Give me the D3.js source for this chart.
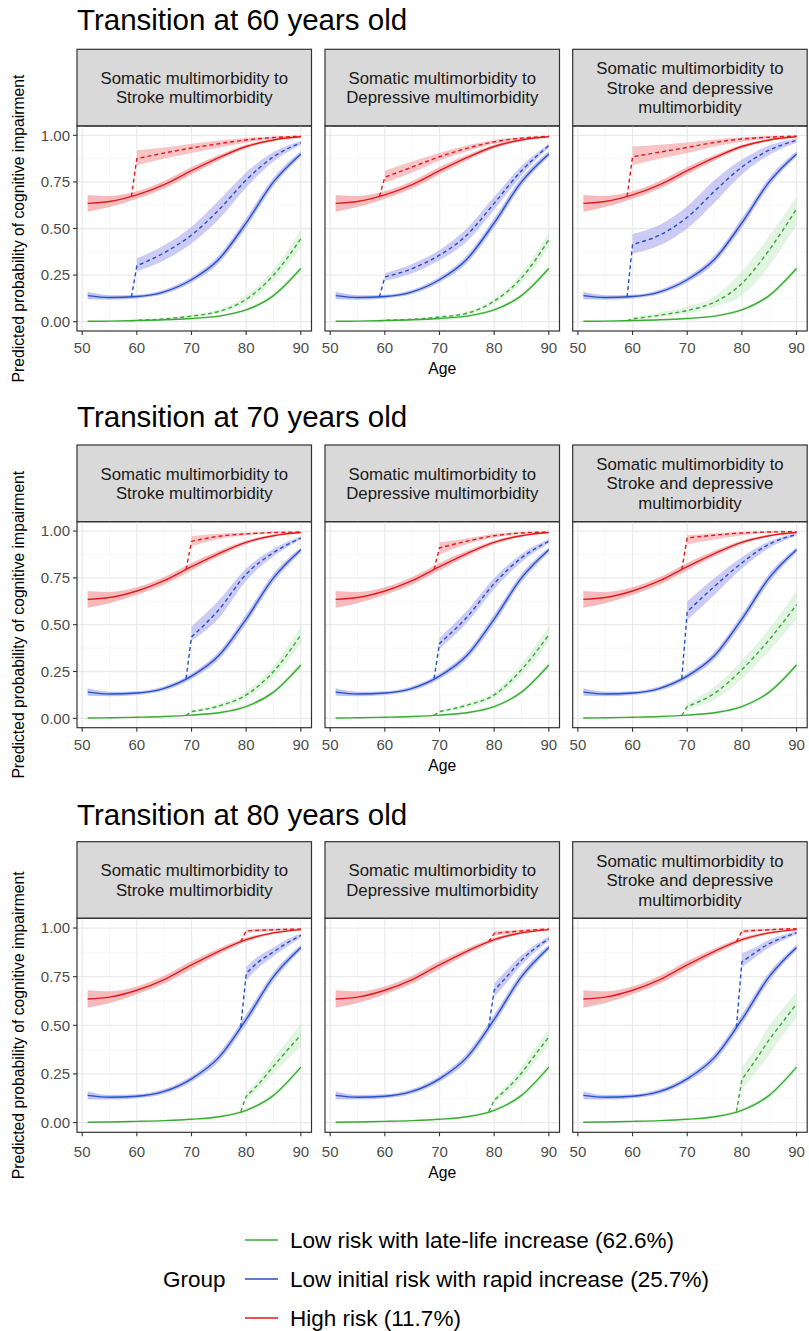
<!DOCTYPE html>
<head>
    <meta charset='utf-8'>
    <style>
        body {
            margin: 0;
            background: #fff;
            font-family: 'Liberation Sans', Arial, sans-serif;
        }
        .grid-major { stroke: #EBEBEB; stroke-width: 1.3px; }
        .grid-minor { stroke: #F3F3F3; stroke-width: 0.7px; }
        .frame { fill: none; stroke: #333; stroke-width: 1.2px; }
        .strip { fill: #D9D9D9; stroke: #333; stroke-width: 1.2px; }
        .tick line { stroke: #333; stroke-width: 1.1px; }
        .tick text { fill: #4D4D4D; font-size: 15px; }
    </style>
</head>

<body>
<div id='vis'></div>
<script src='https://cdn.jsdelivr.net/npm/d3@7'></script>
<script>
  const width = 809, height = 1331

  // ---- data ----
  const transitionAges = [60, 70, 80]
  const facetLabels = [
    ['Somatic multimorbidity to', 'Stroke multimorbidity'],
    ['Somatic multimorbidity to', 'Depressive multimorbidity'],
    ['Somatic multimorbidity to', 'Stroke and depressive', 'multimorbidity']
  ]
  const groupNames = ['Low risk with late-life increase (62.6%)', 'Low initial risk with rapid increase (25.7%)', 'High risk (11.7%)']
  const xTicks = [50, 60, 70, 80, 90]
  const yTicks = [0, 0.25, 0.5, 0.75, 1]
  const yTickLabels = ['0.00', '0.25', '0.50', '0.75', '1.00']

  // baseline trajectory (solid lines), same in every panel
  const baseAges  = [51, 55, 60, 65, 70, 75, 80, 85, 90]
  const baseGreen   = [.002, .003, .006, .010, .017, .030, .063, .140, .285]
  const baseGreenLo = [.000, .001, .003, .007, .013, .024, .054, .128, .269]
  const baseGreenHi = [.004, .005, .009, .013, .021, .036, .072, .152, .301]
  const baseBlue    = [.140, .130, .135, .160, .225, .335, .530, .750, .900]
  const baseBlueLo  = [.120, .118, .125, .148, .210, .315, .505, .728, .886]
  const baseBlueHi  = [.160, .142, .145, .172, .240, .355, .555, .772, .914]
  const baseRed     = [.635, .645, .680, .735, .810, .880, .940, .975, .992]
  const baseRedLo   = [.590, .615, .660, .715, .790, .865, .930, .969, .989]
  const baseRedHi   = [.680, .675, .700, .755, .830, .895, .950, .981, .995]

  // value of the solid line one year before the transition (start of the jump)
  const jumpStart60 = [.005, .132, .672]
  const jumpStart70 = [.015, .212, .795]
  const jumpStart80 = [.056, .490, .930]

  // after transition (dashed lines); one row per facet: stroke, depressive, both
  const ages60 = [60, 65, 70, 75, 80, 85, 90]
  const t60Green   = [[.008, .015, .030, .055, .120, .250, .445], [.008, .013, .025, .045, .110, .235, .440], [.015, .035, .060, .105, .205, .385, .605]]
  const t60GreenLo = [[.006, .011, .023, .045, .100, .220, .400], [.006, .010, .020, .037, .095, .210, .400], [.010, .025, .042, .080, .140, .300, .520]]
  const t60GreenHi = [[.011, .019, .037, .066, .140, .280, .490], [.010, .016, .030, .053, .125, .260, .480], [.022, .050, .080, .135, .270, .460, .670]]
  const t60Blue    = [[.300, .370, .465, .600, .760, .885, .960], [.240, .285, .357, .465, .635, .810, .945], [.415, .465, .560, .700, .830, .920, .973]]
  const t60BlueLo  = [[.270, .330, .420, .550, .720, .860, .950], [.220, .260, .330, .430, .600, .785, .935], [.365, .410, .500, .640, .790, .895, .962]]
  const t60BlueHi  = [[.340, .410, .510, .650, .800, .910, .970], [.260, .310, .385, .500, .670, .835, .955], [.470, .520, .620, .760, .870, .945, .984]]
  const t60Red     = [[.875, .905, .932, .955, .975, .988, .995], [.775, .830, .885, .930, .965, .985, .995], [.885, .910, .935, .962, .980, .990, .996]]
  const t60RedLo   = [[.840, .875, .905, .935, .962, .982, .992], [.745, .800, .865, .915, .955, .980, .993], [.840, .875, .905, .940, .965, .983, .993]]
  const t60RedHi   = [[.920, .935, .955, .972, .986, .994, .998], [.810, .860, .905, .945, .975, .990, .997], [.940, .950, .962, .978, .990, .996, .999]]

  const ages70 = [70, 75, 80, 85, 90]
  const t70Green   = [[.036, .066, .125, .250, .445], [.036, .070, .125, .260, .446], [.063, .134, .260, .420, .607]]
  const t70GreenLo = [[.030, .055, .105, .220, .400], [.030, .058, .110, .230, .410], [.045, .100, .210, .360, .530]]
  const t70GreenHi = [[.043, .078, .145, .280, .490], [.042, .082, .140, .290, .490], [.080, .170, .310, .480, .680]]
  const t70Blue    = [[.435, .580, .770, .885, .963], [.400, .540, .720, .857, .946], [.570, .705, .830, .930, .982]]
  const t70BlueLo  = [[.415, .535, .735, .865, .955], [.370, .510, .690, .835, .935], [.525, .660, .800, .910, .975]]
  const t70BlueHi  = [[.490, .630, .800, .905, .972], [.430, .575, .750, .878, .957], [.625, .750, .860, .945, .988]]
  const t70Red     = [[.945, .972, .985, .992, .995], [.910, .946, .975, .990, .995], [.963, .978, .990, .995, .997]]
  const t70RedLo   = [[.920, .958, .978, .988, .993], [.875, .930, .965, .985, .993], [.930, .955, .978, .990, .994]]
  const t70RedHi   = [[.972, .985, .992, .996, .998], [.940, .960, .985, .994, .998], [.978, .988, .995, .998, .999]]

  const ages80 = [80, 82, 85, 87, 90]
  const t80Green   = [[.135, .190, .290, .355, .450], [.115, .165, .255, .330, .440], [.221, .300, .426, .500, .610]]
  const t80GreenLo = [[.115, .165, .250, .310, .390], [.100, .145, .225, .295, .400], [.170, .240, .350, .430, .540]]
  const t80GreenHi = [[.155, .215, .330, .400, .510], [.130, .185, .285, .365, .480], [.290, .360, .500, .570, .670]]
  const t80Blue    = [[.765, .820, .877, .915, .962], [.680, .740, .835, .885, .945], [.826, .865, .920, .945, .976]]
  const t80BlueLo  = [[.730, .790, .855, .895, .950], [.645, .710, .810, .865, .932], [.800, .840, .900, .930, .967]]
  const t80BlueHi  = [[.800, .850, .900, .935, .972], [.715, .775, .860, .905, .957], [.870, .895, .940, .960, .985]]
  const t80Red     = [[.985, .988, .991, .993, .995], [.972, .978, .985, .990, .995], [.983, .987, .991, .994, .997]]
  const t80RedLo   = [[.975, .980, .985, .988, .991], [.960, .968, .978, .985, .992], [.972, .978, .985, .990, .994]]
  const t80RedHi   = [[.993, .995, .996, .997, .998], [.982, .987, .991, .995, .998], [.992, .994, .996, .998, .999]]

  // ---- assemble ----
  const colors = ['#3AAA35', '#2352C6', '#E31A1C']
  const ribbonFill = ['#B4E6B4', '#A8A8F0', '#F4A3A6']
  const ribbonOpacity = [0.45, 0.7, 0.75]

  const base = [
    {v: baseGreen, lo: baseGreenLo, hi: baseGreenHi},
    {v: baseBlue, lo: baseBlueLo, hi: baseBlueHi},
    {v: baseRed, lo: baseRedLo, hi: baseRedHi}
  ]
  const after = [
    {ages: ages60, from: jumpStart60, sets: [[t60Green, t60GreenLo, t60GreenHi], [t60Blue, t60BlueLo, t60BlueHi], [t60Red, t60RedLo, t60RedHi]]},
    {ages: ages70, from: jumpStart70, sets: [[t70Green, t70GreenLo, t70GreenHi], [t70Blue, t70BlueLo, t70BlueHi], [t70Red, t70RedLo, t70RedHi]]},
    {ages: ages80, from: jumpStart80, sets: [[t80Green, t80GreenLo, t80GreenHi], [t80Blue, t80BlueLo, t80BlueHi], [t80Red, t80RedLo, t80RedHi]]}
  ]

  // row geometry (px)
  const rows = [
    {title: 30,    strip: 49.3,  top: 126,   bottom: 331,    tick: 348,    age: 368},
    {title: 426.7, strip: 445,   top: 521.7, bottom: 727.7,  tick: 745,    age: 765},
    {title: 825,   strip: 841.7, top: 918.3, bottom: 1132.3, tick: 1151.7, age: 1172.7}
  ]
  const panelLefts = [77, 325, 572.7]
  const panelW = 234.5

  const svg = d3.select('#vis')
    .append('svg')
    .attr('width', width)
    .attr('height', height)

  const x = d3.scaleLinear().domain([49.05, 91.95])

  rows.forEach((r, ri) => {
    const T = transitionAges[ri]
    const y = d3.scaleLinear().domain([-0.05, 1.05]).range([r.bottom, r.top])

    svg.append('text')
      .attr('x', 77).attr('y', r.title)
      .attr('font-size', 29.5).attr('fill', '#000')
      .text(`Transition at ${T} years old`)

    // y axis title
    svg.append('text')
      .attr('transform', `translate(24, ${(r.top + r.bottom) / 2}) rotate(-90)`)
      .attr('text-anchor', 'middle')
      .attr('font-size', 15.7)
      .text('Predicted probability of cognitive impairment')

    svg.append('text')
      .attr('x', panelLefts[1] + panelW / 2).attr('y', r.age + 5.5)
      .attr('text-anchor', 'middle').attr('font-size', 15.7)
      .text('Age')

    panelLefts.forEach((left, fi) => {
      x.range([left, left + panelW])
      const g = svg.append('g')

      // strip
      g.append('rect').attr('class', 'strip')
        .attr('x', left).attr('y', r.strip)
        .attr('width', panelW).attr('height', r.top - r.strip)
      const lines = facetLabels[fi]
      const mid = r.strip + (r.top - r.strip) / 2
      lines.forEach((t, li) => {
        g.append('text')
          .attr('x', left + panelW / 2)
          .attr('y', mid + (li - (lines.length - 1) / 2) * 19.5 + 6)
          .attr('text-anchor', 'middle')
          .attr('font-size', 16.8).attr('fill', '#1A1A1A')
          .text(t)
      })

      // grid
      const minorX = [55, 65, 75, 85]
      const minorY = [0.125, 0.375, 0.625, 0.875]
      g.selectAll('.mx').data(minorX).enter().append('line').attr('class', 'grid-minor')
        .attr('x1', d => x(d)).attr('x2', d => x(d)).attr('y1', r.top).attr('y2', r.bottom)
      g.selectAll('.my').data(minorY).enter().append('line').attr('class', 'grid-minor')
        .attr('x1', left).attr('x2', left + panelW).attr('y1', d => y(d)).attr('y2', d => y(d))
      g.selectAll('.gx').data(xTicks).enter().append('line').attr('class', 'grid-major')
        .attr('x1', d => x(d)).attr('x2', d => x(d)).attr('y1', r.top).attr('y2', r.bottom)
      g.selectAll('.gy').data(yTicks).enter().append('line').attr('class', 'grid-major')
        .attr('x1', left).attr('x2', left + panelW).attr('y1', d => y(d)).attr('y2', d => y(d))

      const area = d3.area().x(d => x(d.a)).y0(d => y(d.lo)).y1(d => y(d.hi)).curve(d3.curveMonotoneX)
      const line = d3.line().x(d => x(d.a)).y(d => y(d.v)).curve(d3.curveMonotoneX)

      const solid = base.map(b => baseAges.map((a, i) => ({a, v: b.v[i], lo: b.lo[i], hi: b.hi[i]})))
      const dashed = after[ri].sets.map(s => after[ri].ages.map((a, i) => ({a, v: s[0][fi][i], lo: s[1][fi][i], hi: s[2][fi][i]})))

      // ribbons
      solid.forEach((d, k) => {
        g.append('path').attr('d', area(d))
          .attr('fill', ribbonFill[k]).attr('fill-opacity', ribbonOpacity[k])
      })
      dashed.forEach((d, k) => {
        g.append('path').attr('d', area(d))
          .attr('fill', ribbonFill[k]).attr('fill-opacity', ribbonOpacity[k] * 0.85)
      })

      // lines
      solid.forEach((d, k) => {
        g.append('path').attr('d', line(d))
          .attr('fill', 'none').attr('stroke', colors[k]).attr('stroke-width', 1.4)
      })
      dashed.forEach((d, k) => {
        const start = `M${x(T - 1)},${y(after[ri].from[k])}`
        g.append('path').attr('d', start + line(d).replace(/^M/, 'L'))
          .attr('fill', 'none').attr('stroke', colors[k]).attr('stroke-width', 1.4)
          .attr('stroke-dasharray', '4,3')
      })

      g.append('rect').attr('class', 'frame')
        .attr('x', left).attr('y', r.top)
        .attr('width', panelW).attr('height', r.bottom - r.top)

      // x axis
      const xt = g.selectAll('.xt').data(xTicks).enter().append('g').attr('class', 'tick')
        .attr('transform', d => `translate(${x(d)},${r.bottom})`)
      xt.append('line').attr('y2', 4)
      xt.append('text').attr('y', r.tick - r.bottom + 5.3).attr('text-anchor', 'middle').text(d => d)

      // y axis (first panel only)
      if (fi === 0) {
        const yt = g.selectAll('.yt').data(yTicks).enter().append('g').attr('class', 'tick')
          .attr('transform', d => `translate(${left},${y(d)})`)
        yt.append('line').attr('x2', -4)
        yt.append('text').attr('x', -7).attr('y', 5.3).attr('text-anchor', 'end')
          .text((d, i) => yTickLabels[i])
      }
    })
  })

  // legend
  const legend = svg.append('g')
  const legendY = [1240, 1279, 1318]
  legend.append('text').attr('x', 163).attr('y', legendY[1] + 7.9)
    .attr('font-size', 22.5).text('Group')
  groupNames.forEach((name, i) => {
    legend.append('line')
      .attr('x1', 245).attr('x2', 278).attr('y1', legendY[i]).attr('y2', legendY[i])
      .attr('stroke', colors[i]).attr('stroke-width', 1.3)
    legend.append('text').attr('x', 290).attr('y', legendY[i] + 7.9)
      .attr('font-size', 22.5).text(name)
  })
</script>
</body>
